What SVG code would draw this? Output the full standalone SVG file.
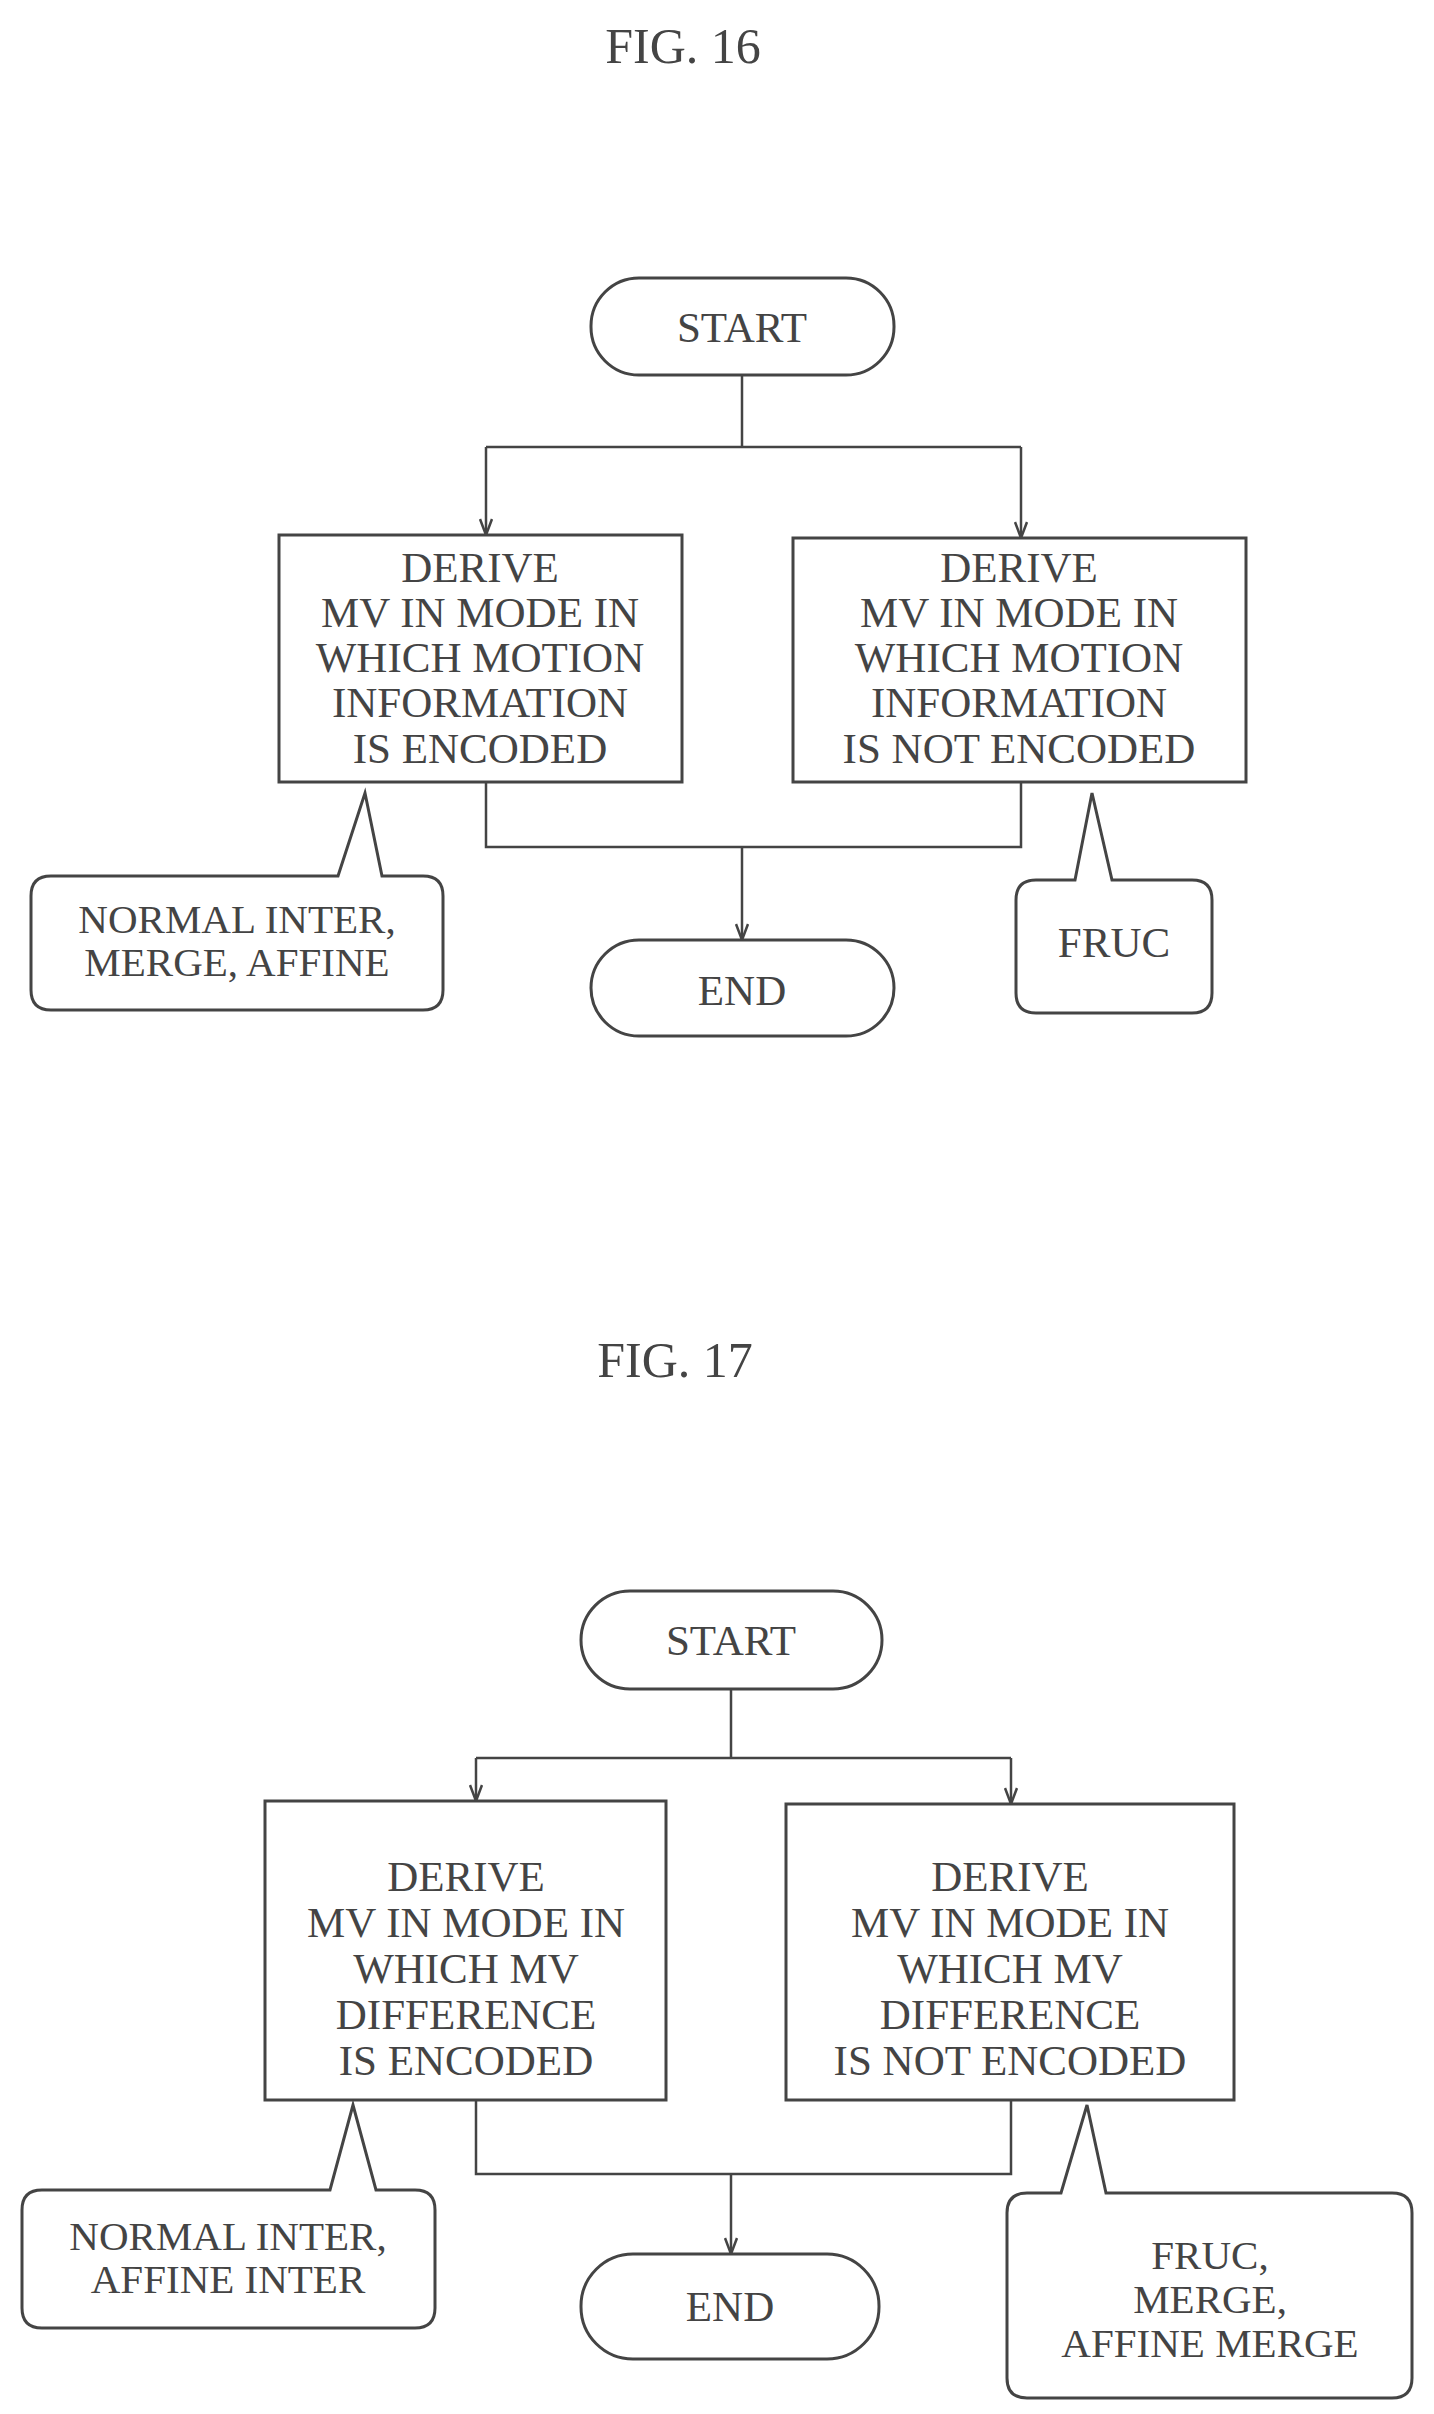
<svg xmlns="http://www.w3.org/2000/svg" width="1434" height="2414" viewBox="0 0 1434 2414">
<style>
.s{fill:#fff;stroke:#444;stroke-width:3}
.c{fill:none;stroke:#444;stroke-width:2.5}
text{font-family:"Liberation Serif","DejaVu Serif",serif;font-size:43px;fill:#444;text-anchor:middle;dominant-baseline:central}
.t{font-size:50px}
.n{font-size:41px}
</style>
<defs><marker id="a" markerWidth="18" markerHeight="14" refX="17" refY="7" orient="auto" markerUnits="userSpaceOnUse" viewBox="0 0 18 14"><path d="M1,1 L17,7 L1,13" fill="none" stroke="#444" stroke-width="2.5"/></marker></defs>
<text class="t" x="683" y="46">FIG. 16</text>
<text class="t" x="675" y="1360">FIG. 17</text>
<g id="connectors">
<path class="c" d="M742,375 V447 M486,447 H1021"/>
<path class="c" d="M486,447 V535" marker-end="url(#a)"/>
<path class="c" d="M1021,447 V538" marker-end="url(#a)"/>
<path class="c" d="M486,782 V847 H1021 V782"/>
<path class="c" d="M742,847 V940" marker-end="url(#a)"/>
<path class="c" d="M731,1689 V1758 M476,1758 H1011"/>
<path class="c" d="M476,1758 V1801" marker-end="url(#a)"/>
<path class="c" d="M1011,1758 V1804" marker-end="url(#a)"/>
<path class="c" d="M476,2100 V2174 H1011 V2100"/>
<path class="c" d="M731,2174 V2254" marker-end="url(#a)"/>
</g>
<g id="start16"><rect class="s" x="591" y="278" width="303" height="97" rx="48"/><text x="742" y="327">START</text></g>
<g id="box16l"><rect class="s" x="279" y="535" width="403" height="247"/><text x="480" y="567">DERIVE</text><text x="480" y="612">MV IN MODE IN</text><text x="480" y="657">WHICH MOTION</text><text x="480" y="702">INFORMATION</text><text x="480" y="748">IS ENCODED</text></g>
<g id="box16r"><rect class="s" x="793" y="538" width="453" height="244"/><text x="1019" y="567">DERIVE</text><text x="1019" y="612">MV IN MODE IN</text><text x="1019" y="657">WHICH MOTION</text><text x="1019" y="702">INFORMATION</text><text x="1019" y="748">IS NOT ENCODED</text></g>
<g id="end16"><rect class="s" x="591" y="940" width="303" height="96" rx="48"/><text x="742" y="990">END</text></g>
<g id="call16l"><path class="s" d="M51,876 H338 L365,793 L382,876 H423 Q443,876 443,896 V990 Q443,1010 423,1010 H51 Q31,1010 31,990 V896 Q31,876 51,876 Z"/><text class="n" x="237" y="919">NORMAL INTER,</text><text class="n" x="237" y="962">MERGE, AFFINE</text></g>
<g id="call16r"><path class="s" d="M1036,880 H1075 L1092,793 L1112,880 H1192 Q1212,880 1212,900 V993 Q1212,1013 1192,1013 H1036 Q1016,1013 1016,993 V900 Q1016,880 1036,880 Z"/><text x="1114" y="942">FRUC</text></g>
<g id="start17"><rect class="s" x="581" y="1591" width="301" height="98" rx="49"/><text x="731" y="1640">START</text></g>
<g id="box17l"><rect class="s" x="265" y="1801" width="401" height="299"/><text x="466" y="1876">DERIVE</text><text x="466" y="1922">MV IN MODE IN</text><text x="466" y="1968">WHICH MV</text><text x="466" y="2014">DIFFERENCE</text><text x="466" y="2060">IS ENCODED</text></g>
<g id="box17r"><rect class="s" x="786" y="1804" width="448" height="296"/><text x="1010" y="1876">DERIVE</text><text x="1010" y="1922">MV IN MODE IN</text><text x="1010" y="1968">WHICH MV</text><text x="1010" y="2014">DIFFERENCE</text><text x="1010" y="2060">IS NOT ENCODED</text></g>
<g id="end17"><rect class="s" x="581" y="2254" width="298" height="105" rx="52"/><text x="730" y="2306">END</text></g>
<g id="call17l"><path class="s" d="M42,2190 H330 L353,2105 L376,2190 H415 Q435,2190 435,2210 V2308 Q435,2328 415,2328 H42 Q22,2328 22,2308 V2210 Q22,2190 42,2190 Z"/><text class="n" x="228" y="2236">NORMAL INTER,</text><text class="n" x="228" y="2279">AFFINE INTER</text></g>
<g id="call17r"><path class="s" d="M1027,2193 H1061 L1087,2105 L1106,2193 H1392 Q1412,2193 1412,2213 V2378 Q1412,2398 1392,2398 H1027 Q1007,2398 1007,2378 V2213 Q1007,2193 1027,2193 Z"/><text class="n" x="1210" y="2255">FRUC,</text><text class="n" x="1210" y="2299">MERGE,</text><text class="n" x="1210" y="2343">AFFINE MERGE</text></g>
</svg>
